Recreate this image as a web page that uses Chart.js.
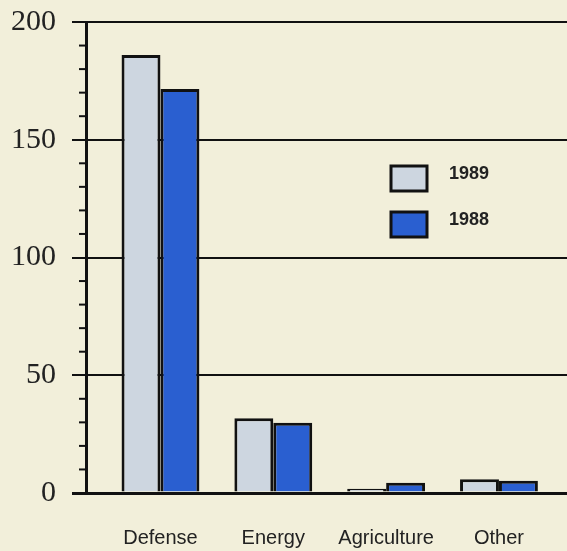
<!DOCTYPE html>
<html>
<head>
<meta charset="utf-8">
<script src="https://cdn.jsdelivr.net/npm/chart.js@4/dist/chart.umd.min.js"></script>
<style>
  html, body { margin: 0; padding: 0; background: #f2efda; }
  #wrap { width: 567px; height: 551px; }
</style>
</head>
<body>
<div id="wrap"><canvas id="budget"></canvas></div>
<script>
const categories = ['Defense', 'Energy', 'Agriculture', 'Other']
const values1989 = [186, 31.7, 1.8, 5.8]
const values1988 = [171.6, 29.8, 4.4, 5.2]
const yTicks = [0, 50, 100, 150, 200]

// tick marks every 10 on the y axis, between the labelled ones
const minorTicks = {
    id: 'minorTicks',
    afterDraw(chart) {
        const ctx = chart.ctx
        const y = chart.scales.y
        const left = chart.chartArea.left
        ctx.save()
        ctx.strokeStyle = '#111'
        ctx.lineWidth = 2
        for (let v = 10; v < 200; v += 10) {
            if (v % 50 === 0) continue
            const py = y.getPixelForValue(v)
            ctx.beginPath()
            ctx.moveTo(left - 7, py)
            ctx.lineTo(left, py)
            ctx.stroke()
        }
        ctx.restore()
    }
}

// legend drawn inside the plot area, as in the original
const boxLegend = {
    id: 'boxLegend',
    afterDraw(chart) {
        const ctx = chart.ctx
        const area = chart.chartArea
        ctx.save()
        chart.data.datasets.forEach((ds, i) => {
            const bx = area.left + 305
            const by = 166 + i * 46
            ctx.fillStyle = ds.backgroundColor
            ctx.fillRect(bx, by, 36, 25)
            ctx.strokeStyle = '#111'
            ctx.lineWidth = 3
            ctx.strokeRect(bx, by, 36, 25)
            ctx.fillStyle = '#222'
            ctx.font = 'bold 18px "Liberation Sans", Arial, sans-serif'
            ctx.textBaseline = 'middle'
            ctx.fillText(ds.label, bx + 58, by + 8)
        })
        ctx.restore()
    }
}

const budget = new Chart(document.getElementById('budget').getContext('2d'), {
    type: 'bar',
    data: {
        datasets: [{
            label: '1989',
            data: categories.map((c, i) => ({x: i, y: values1989[i]})),
            backgroundColor: '#cdd6e0',
            borderColor: '#111',
            borderWidth: 3
        }, {
            label: '1988',
            data: categories.map((c, i) => ({x: i, y: values1988[i]})),
            backgroundColor: '#2a5fd0',
            borderColor: '#111',
            borderWidth: 3
        }]
    },
    plugins: [minorTicks, boxLegend],
    options: {
        responsive: true,
        maintainAspectRatio: false,
        animation: false,
        categoryPercentage: 0.69,
        barPercentage: 1,
        layout: {
            padding: {top: 22, left: 10, right: 0, bottom: 0}
        },
        scales: {
            x: {
                type: 'linear',
                offset: false,
                min: -0.66,
                max: 3.603,
                afterBuildTicks: axis => {
                    axis.ticks = categories.map((c, i) => ({value: i}))
                },
                afterFit: axis => {
                    axis.height = 58
                    axis.paddingLeft = 0
                    axis.paddingRight = 0
                },
                ticks: {
                    callback: v => categories[v],
                    padding: 33,
                    color: '#222',
                    maxRotation: 0,
                    autoSkip: false,
                    font: {family: '"Liberation Sans", Arial, sans-serif', size: 20}
                },
                grid: {display: false, drawTicks: false},
                border: {display: false}
            },
            y: {
                min: 0,
                max: 200,
                afterBuildTicks: axis => {
                    axis.ticks = yTicks.map(v => ({value: v}))
                },
                afterFit: axis => {
                    axis.width = 76
                    axis.paddingTop = 0
                    axis.paddingBottom = 0
                },
                ticks: {
                    padding: 16,
                    color: '#222',
                    font: {family: '"Liberation Serif", "Times New Roman", serif', size: 30}
                },
                grid: {
                    color: '#111',
                    lineWidth: c => c.tick && c.tick.value === 0 ? 3 : 2,
                    tickLength: 14,
                    tickColor: '#111'
                },
                border: {display: true, color: '#111', width: 3}
            }
        },
        plugins: {
            legend: {display: false},
            tooltip: {enabled: false}
        }
    }
})
</script>
</body>
</html>
